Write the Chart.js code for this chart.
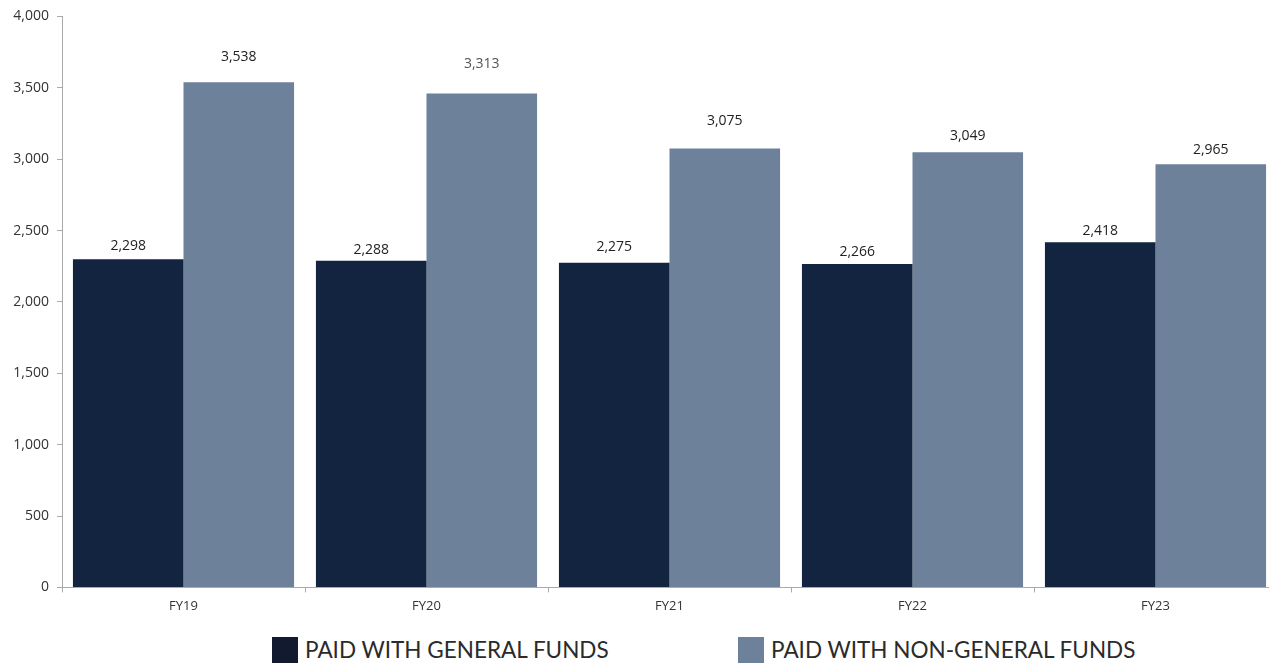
<!DOCTYPE html>
<html lang="en">
<head>
    <meta charset="UTF-8">
    <title>General vs Non-General Funds</title>
    <script src="https://cdn.jsdelivr.net/npm/chart.js"></script>
    <style>
        body {
            margin: 0;
            background: #ffffff;
            font-family: 'Open Sans', sans-serif;
            overflow: hidden;
        }

        .wrap {
            position: relative;
            width: 1269px;
            height: 664px;
            overflow: hidden;
        }

        .legend {
            position: absolute;
            top: 636px;
            left: 0;
            width: 1269px;
            height: 28px;
            font-family: Lato, sans-serif;
            font-size: 22.5px;
            color: #2b2b2b;
        }

        .legend span {
            position: absolute;
            top: 0;
            display: flex;
            align-items: center;
            white-space: nowrap;
        }

        .legend i {
            display: inline-block;
            width: 26px;
            height: 26px;
            margin-right: 7px;
        }
    </style>
</head>

<body>
    <div class="wrap">
        <canvas id="chart" width="1278" height="636"></canvas>
        <div class="legend" id="legend"></div>
    </div>

    <script>
        const years = ['FY19', 'FY20', 'FY21', 'FY22', 'FY23'];
        const generalFunds = [2298, 2288, 2275, 2266, 2418];
        const nonGeneralFunds = [3538, 3460, 3075, 3049, 2965];   // FY20 bar drawn taller than its label
        const generalLabels = ['2,298', '2,288', '2,275', '2,266', '2,418'];
        const nonGeneralLabels = ['3,538', '3,313', '3,075', '3,049', '2,965'];
        const yTicks = [0, 500, 1000, 1500, 2000, 2500, 3000, 3500, 4000];

        const GENERAL_COLOR = '#12243f';
        const NON_GENERAL_COLOR = '#6d819b';

        // value labels above bars
        const barLabels = {
            id: 'barLabels',
            afterDatasetsDraw(chart, args, opts) {
                const ctx = chart.ctx;
                ctx.save();
                ctx.font = '14px "Open Sans", sans-serif';
                ctx.textAlign = 'center';
                ctx.textBaseline = 'middle';
                chart.data.datasets.forEach((ds, di) => {
                    const meta = chart.getDatasetMeta(di);
                    meta.data.forEach((bar, i) => {
                        ctx.fillStyle = (opts.colors[di] && opts.colors[di][i]) || '#222';
                        ctx.fillText(ds.labelsText[i], bar.x, bar.y - opts.lift[di][i]);
                    });
                });
                ctx.restore();
            }
        };

        const chart = new Chart(document.getElementById('chart'), {
            type: 'bar',
            data: {
                labels: years,
                datasets: [
                    {
                        label: 'PAID WITH GENERAL FUNDS',
                        data: generalFunds,
                        labelsText: generalLabels,
                        backgroundColor: GENERAL_COLOR,
                        categoryPercentage: 0.91,
                        barPercentage: 1.0
                    },
                    {
                        label: 'PAID WITH NON-GENERAL FUNDS',
                        data: nonGeneralFunds,
                        labelsText: nonGeneralLabels,
                        backgroundColor: NON_GENERAL_COLOR,
                        categoryPercentage: 0.91,
                        barPercentage: 1.0
                    }
                ]
            },
            options: {
                responsive: false,
                animation: false,
                layout: { padding: { top: 3, right: 1, left: 0, bottom: 16 } },
                plugins: {
                    legend: { display: false },
                    tooltip: { enabled: false },
                    barLabels: {
                        lift: [[13, 11, 16, 12, 11], [25, 29, 27, 16, 14]],
                        colors: [[], [null, '#555555']]
                    }
                },
                scales: {
                    x: {
                        grid: { display: true, drawOnChartArea: false, tickLength: 5, color: '#aaaaaa', offset: true },
                        border: { color: '#aaaaaa', width: 1 },
                        ticks: {
                            color: '#333333',
                            font: { family: 'Open Sans', size: 13 },
                            padding: 6
                        }
                    },
                    y: {
                        min: 0,
                        max: 4000,
                        afterBuildTicks: axis => { axis.ticks = yTicks.map(v => ({ value: v })); },
                        afterFit: axis => { axis.width = 62; },
                        grid: { display: true, drawOnChartArea: false, tickLength: 5, color: '#aaaaaa' },
                        border: { color: '#aaaaaa', width: 1 },
                        ticks: {
                            color: '#333333',
                            font: { family: 'Open Sans', size: 14 },
                            padding: 8,
                            callback: v => v.toLocaleString('en-US')
                        }
                    }
                }
            },
            plugins: [barLabels]
        });

        // legend items placed like the reference
        const legendItems = [
            { text: 'PAID WITH GENERAL FUNDS', color: '#111a2e', left: 272 },
            { text: 'PAID WITH NON-GENERAL FUNDS', color: NON_GENERAL_COLOR, left: 738 }
        ];
        const legend = document.getElementById('legend');
        legendItems.forEach(item => {
            const span = document.createElement('span');
            span.style.left = item.left + 'px';
            span.innerHTML = '<i style="background:' + item.color + '"></i>' + item.text;
            legend.appendChild(span);
        });
    </script>
</body>
</html>
